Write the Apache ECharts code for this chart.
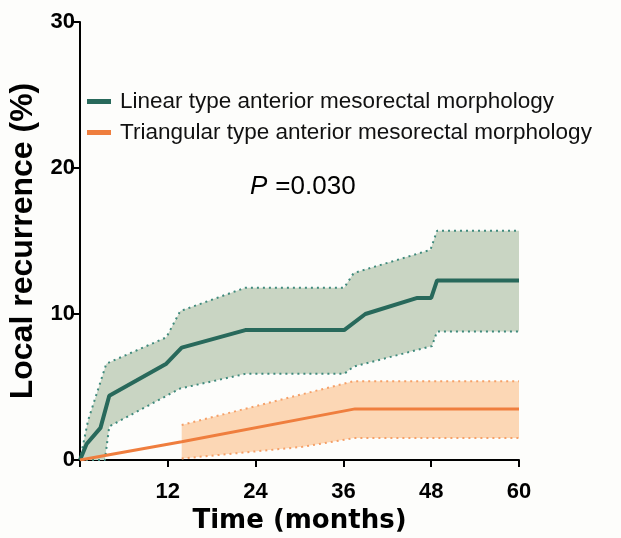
<!DOCTYPE html>
<html>
<head>
<meta charset="utf-8">
<script src="https://cdn.jsdelivr.net/npm/echarts@6/dist/echarts.min.js"></script>
<style>
  html, body { margin: 0; padding: 0; background: #fdfdfb; }
  #chart { width: 621px; height: 538px; }
</style>
</head>
<body>
<div id="chart"></div>
<script>
// cumulative local recurrence, [month, %]
var linearLine = [[0, 0], [0.9, 1.1], [2.8, 2.2], [4.0, 4.4], [11.8, 6.6], [13.9, 7.7], [22.6, 8.9], [36.1, 8.9], [39.0, 10.0], [46.1, 11.1], [48.0, 11.1], [48.8, 12.3], [60, 12.3]];
var linearUpper = [[0, 0], [1.1, 2.7], [3.6, 6.6], [11.8, 8.4], [13.7, 10.2], [22.6, 11.8], [36.1, 11.8], [37.4, 12.8], [47.9, 14.4], [48.8, 15.7], [60, 15.7]];
var linearLower = [[0, 0], [3.4, 0], [4.0, 2.3], [13.7, 4.9], [22.6, 5.9], [36.1, 5.9], [37.4, 6.4], [48.1, 7.8], [48.8, 8.8], [60, 8.8]];

var triLine = [[0, 0], [13.9, 1.25], [37.6, 3.5], [60, 3.5]];
var triUpper = [[13.9, 2.4], [37.4, 5.4], [60, 5.4]];
var triLower = [[13.9, 0.1], [30.4, 0.9], [37.4, 1.5], [60, 1.5]];

var names = ['Linear type anterior mesorectal morphology', 'Triangular type anterior mesorectal morphology'];
var lineColors = ['#28695b', '#ef7e3e'];
var dotColors = ['#3f8a7c', '#f5a068'];
var fillColors = ['#c9d5c3', '#fcd7b5'];

var myChart = echarts.init(document.getElementById('chart'));

function bandSeries(upper, lower, fill) {
    return {
        type: 'custom',
        silent: true,
        z: 1,
        data: [0],
        renderItem: function (params, api) {
            var pts = [];
            for (var i = 0; i < upper.length; i++) pts.push(api.coord(upper[i]));
            for (var j = lower.length - 1; j >= 0; j--) pts.push(api.coord(lower[j]));
            return { type: 'polygon', shape: { points: pts }, style: { fill: fill } };
        }
    };
}

function boundSeries(data, color) {
    return {
        type: 'line',
        data: data,
        symbol: 'none',
        silent: true,
        z: 2,
        lineStyle: { color: color, width: 2, type: [2, 4] }
    };
}

var option = {
    backgroundColor: '#fdfdfb',
    animation: false,
    grid: { left: 80, right: 102, top: 22, bottom: 78, outerBoundsMode: 'none', containLabel: false },
    legend: {
        left: 82,
        top: 85,
        orient: 'vertical',
        itemGap: 8,
        itemWidth: 24,
        itemHeight: 5,
        icon: 'rect',
        textStyle: { fontFamily: 'Liberation Sans', fontSize: 22.5, color: '#111', padding: [0, 0, 0, 4] },
        data: names
    },
    xAxis: {
        type: 'value',
        min: 0,
        max: 60,
        interval: 12,
        name: 'Time (months)',
        nameLocation: 'middle',
        nameGap: 48,
        nameTextStyle: { fontFamily: 'DejaVu Sans', fontWeight: 'bold', fontSize: 26, color: '#000' },
        splitLine: { show: false },
        axisLine: { lineStyle: { color: '#000', width: 2 } },
        axisTick: { length: 7, lineStyle: { color: '#000', width: 2 } },
        axisLabel: {
            margin: 21,
            fontFamily: 'Liberation Sans',
            fontWeight: 'bold',
            fontSize: 22,
            color: '#000',
            formatter: function (v) { return v === 0 ? '' : String(v); }
        }
    },
    yAxis: {
        type: 'value',
        min: 0,
        max: 30,
        interval: 10,
        name: 'Local recurrence (%)',
        nameLocation: 'middle',
        nameGap: 40,
        nameTextStyle: { fontFamily: 'Liberation Sans', fontWeight: 'bold', fontSize: 32, color: '#000' },
        splitLine: { show: false },
        axisLine: { show: true, lineStyle: { color: '#000', width: 2 } },
        axisTick: { show: true, length: 7, lineStyle: { color: '#000', width: 2 } },
        axisLabel: { margin: 5, fontFamily: 'Liberation Sans', fontWeight: 'bold', fontSize: 22, color: '#000' }
    },
    graphic: [{
        type: 'text',
        left: 250,
        top: 174,
        style: {
            rich: {
                p: { fontFamily: 'Liberation Sans', fontStyle: 'italic', fontSize: 26, fill: '#000', padding: [0, 8, 0, 0] },
                n: { fontFamily: 'Liberation Sans', fontSize: 26, fill: '#000' }
            },
            text: '{p|P}{n|=0.030}'
        }
    }],
    series: [
        bandSeries(linearUpper, linearLower, fillColors[0]),
        bandSeries(triUpper, triLower, fillColors[1]),
        boundSeries(linearUpper, dotColors[0]),
        boundSeries(linearLower, dotColors[0]),
        boundSeries(triUpper, dotColors[1]),
        boundSeries(triLower, dotColors[1]),
        {
            name: names[0],
            type: 'line',
            data: linearLine,
            symbol: 'none',
            z: 3,
            itemStyle: { color: lineColors[0] },
            lineStyle: { color: lineColors[0], width: 4 }
        },
        {
            name: names[1],
            type: 'line',
            data: triLine,
            symbol: 'none',
            z: 3,
            itemStyle: { color: lineColors[1] },
            lineStyle: { color: lineColors[1], width: 3 }
        }
    ]
};

myChart.setOption(option);
</script>
</body>
</html>
